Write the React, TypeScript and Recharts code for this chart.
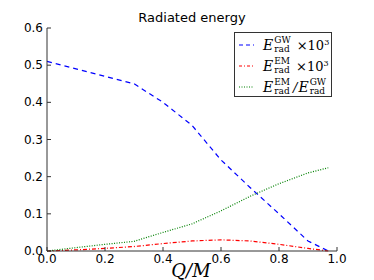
import { LineChart, Line, XAxis, YAxis } from "recharts";

// Q/M sample points
const qm = [0, 0.1, 0.2, 0.3, 0.4, 0.5, 0.6, 0.7, 0.8, 0.9, 0.97];
// E_rad^GW x 10^3
const gwEnergy = [0.51, 0.49, 0.47, 0.45, 0.4, 0.338, 0.245, 0.171, 0.1, 0.027, 0];
// E_rad^EM x 10^3
const emEnergy = [0, 0.003, 0.007, 0.012, 0.02, 0.027, 0.03, 0.027, 0.018, 0.007, 0];
// E_rad^EM / E_rad^GW
const ratio = [0, 0.009, 0.018, 0.026, 0.05, 0.073, 0.108, 0.147, 0.181, 0.21, 0.224];

const xTicks = [0, 0.2, 0.4, 0.6, 0.8, 1.0];
const yTicks = [0, 0.1, 0.2, 0.3, 0.4, 0.5, 0.6];

const data = qm.map((q, i) => ({ q, gw: gwEnergy[i], em: emEnergy[i], ratio: ratio[i] }));

const TICK_FONT = "'DejaVu Sans', sans-serif";
const MATH_FONT = "'DejaVu Serif', 'Liberation Serif', serif";
const FRAME = "#333";

// bottom tick: label below, tick line pointing inward
function BottomTick(props: any) {
  const { x, y, payload } = props;
  return (
    <g>
      <line x1={x} x2={x} y1={y} y2={y - 4} stroke={FRAME} />
      <text x={x} y={y + 12} textAnchor="middle" fontSize={12} fontFamily={TICK_FONT} fill="#000">
        {payload.value.toFixed(1)}
      </text>
    </g>
  );
}

function LeftTick(props: any) {
  const { x, y, payload } = props;
  return (
    <g>
      <line x1={x} x2={x + 4} y1={y} y2={y} stroke={FRAME} />
      <text x={x - 4} y={y + 4} textAnchor="end" fontSize={12} fontFamily={TICK_FONT} fill="#000">
        {payload.value.toFixed(1)}
      </text>
    </g>
  );
}

function TopTick(props: any) {
  const { x, y } = props;
  return <line x1={x} x2={x} y1={y} y2={y + 4} stroke={FRAME} />;
}

function RightTick(props: any) {
  const { x, y } = props;
  return <line x1={x} x2={x - 4} y1={y} y2={y} stroke={FRAME} />;
}

function Erad({ sup, sub }: { sup: string; sub: string }) {
  return (
    <span style={{ fontFamily: MATH_FONT }}>
      <i style={{ fontSize: 14 }}>E</i>
      <span style={{ display: "inline-flex", flexDirection: "column", verticalAlign: "middle", lineHeight: "9px", fontSize: 9, marginLeft: 1 }}>
        <span>{sup}</span>
        <span>{sub}</span>
      </span>
    </span>
  );
}

const legendRows = [
  { color: "#0000ff", dash: "4 3", label: <><Erad sup="GW" sub="rad" /><span style={{ fontFamily: MATH_FONT, fontSize: 13, marginLeft: 6 }}>×10<sup style={{ fontSize: 8 }}>3</sup></span></> },
  { color: "#ff0000", dash: "3 2 1 2", label: <><Erad sup="EM" sub="rad" /><span style={{ fontFamily: MATH_FONT, fontSize: 13, marginLeft: 6 }}>×10<sup style={{ fontSize: 8 }}>3</sup></span></> },
  { color: "#008000", dash: "1 1.5", label: <><Erad sup="EM" sub="rad" /><span style={{ fontFamily: MATH_FONT, fontSize: 13, margin: "0 1px 0 3px" }}><i>/</i></span><Erad sup="GW" sub="rad" /></> },
];

function LegendBox() {
  return (
    <div style={{ position: "absolute", left: 234, top: 32, width: 98, height: 65, boxSizing: "border-box", border: `1px solid ${FRAME}`, background: "#fff", padding: "1px 4px" }}>
      {legendRows.map((r, i) => (
        <div key={i} style={{ display: "flex", alignItems: "center", height: 21 }}>
          <svg width={15} height={6} style={{ marginRight: 9, flexShrink: 0 }}>
            <line x1={0} x2={15} y1={3} y2={3} stroke={r.color} strokeWidth={1.2} strokeDasharray={r.dash} />
          </svg>
          <span style={{ whiteSpace: "nowrap", color: "#000" }}>{r.label}</span>
        </div>
      ))}
    </div>
  );
}

export default function App() {
  return (
    <div style={{ position: "absolute", left: 0, top: 0, width: 374, height: 280, background: "#fff" }}>
      <LineChart width={374} height={280} data={data} margin={{ top: 28, right: 37, left: 0, bottom: 0 }}>
        <XAxis dataKey="q" type="number" domain={[0, 1]} ticks={xTicks} height={29} tickSize={0} tickMargin={0} tick={<BottomTick />} tickLine={false} axisLine={{ stroke: FRAME }} />
        <XAxis xAxisId="top" orientation="top" dataKey="q" type="number" domain={[0, 1]} ticks={xTicks} height={0} tickSize={0} tickMargin={0} tick={<TopTick />} tickLine={false} axisLine={{ stroke: FRAME }} />
        <YAxis type="number" domain={[0, 0.6]} ticks={yTicks} width={47} tickSize={0} tickMargin={0} tick={<LeftTick />} tickLine={false} axisLine={{ stroke: FRAME }} />
        <YAxis yAxisId="right" orientation="right" type="number" domain={[0, 0.6]} ticks={yTicks} width={0} tickSize={0} tickMargin={0} tick={<RightTick />} tickLine={false} axisLine={{ stroke: FRAME }} />
        <Line dataKey="gw" stroke="#0000ff" strokeWidth={1.2} strokeDasharray="5 4" dot={false} type="linear" isAnimationActive={false} />
        <Line dataKey="em" stroke="#ff0000" strokeWidth={1.2} strokeDasharray="4 2 1 2" dot={false} type="linear" isAnimationActive={false} />
        <Line dataKey="ratio" stroke="#008000" strokeWidth={1.2} strokeDasharray="1 1.5" dot={false} type="linear" isAnimationActive={false} />
        <text x={192} y={22} textAnchor="middle" fontSize={13} fontFamily={TICK_FONT} fill="#000">Radiated energy</text>
        <text x={191} y={277} textAnchor="middle" fontSize={18} fontFamily={MATH_FONT} fontStyle="italic" fill="#000">Q/M</text>
      </LineChart>
      <LegendBox />
    </div>
  );
}
